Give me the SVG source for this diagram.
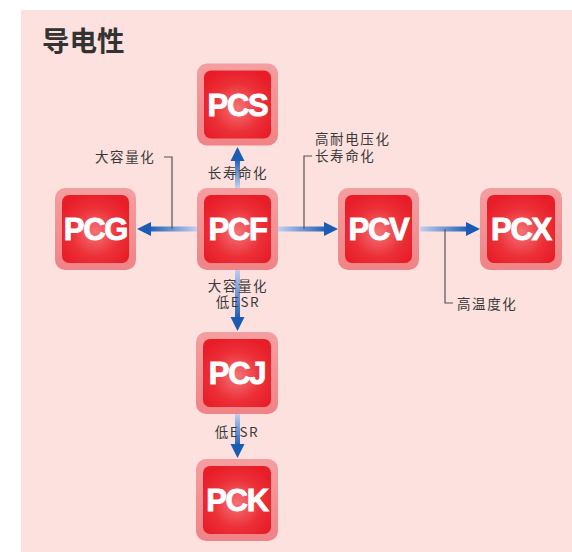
<svg xmlns="http://www.w3.org/2000/svg" width="572" height="552" viewBox="0 0 572 552">
<defs>
<style>
.outer{fill:url(#og)}
.inner{fill:url(#ig)}
.nt{font-family:"Liberation Sans",Arial,sans-serif;font-weight:bold;font-size:31px;fill:#fff;stroke:#fff;stroke-width:0.9;text-anchor:middle;letter-spacing:-1.3px}
.lb{font-family:"Noto Sans CJK SC","Noto Sans",sans-serif;font-size:13.5px;fill:#3a3a3a;letter-spacing:1.6px}
.ct{text-anchor:middle}
.call{fill:none;stroke:#555;stroke-width:1.2}
.head{fill:#1a5cb3}
</style>
<linearGradient id="og" x1="0" y1="0" x2="0" y2="1">
<stop offset="0" stop-color="#f59ea0"/>
<stop offset="1" stop-color="#f08385"/>
</linearGradient>
<radialGradient id="ig" cx="0.5" cy="0.55" r="0.6">
<stop offset="0" stop-color="#f47376"/>
<stop offset="0.6" stop-color="#ec3038"/>
<stop offset="1" stop-color="#e81d28"/>
</radialGradient>
<linearGradient id="aL" gradientUnits="userSpaceOnUse" x1="197" y1="0" x2="148" y2="0">
<stop offset="0" stop-color="#c3cff0"/><stop offset="1" stop-color="#1a5cb3"/>
</linearGradient>
<linearGradient id="aR1" gradientUnits="userSpaceOnUse" x1="278" y1="0" x2="328" y2="0">
<stop offset="0" stop-color="#c3cff0"/><stop offset="1" stop-color="#1a5cb3"/>
</linearGradient>
<linearGradient id="aR2" gradientUnits="userSpaceOnUse" x1="420" y1="0" x2="470" y2="0">
<stop offset="0" stop-color="#c3cff0"/><stop offset="1" stop-color="#1a5cb3"/>
</linearGradient>
<linearGradient id="aU" gradientUnits="userSpaceOnUse" x1="0" y1="188" x2="0" y2="158">
<stop offset="0" stop-color="#c3cff0"/><stop offset="1" stop-color="#1a5cb3"/>
</linearGradient>
<linearGradient id="aD1" gradientUnits="userSpaceOnUse" x1="0" y1="269" x2="0" y2="320">
<stop offset="0" stop-color="#c3cff0"/><stop offset="1" stop-color="#1a5cb3"/>
</linearGradient>
<linearGradient id="aD2" gradientUnits="userSpaceOnUse" x1="0" y1="414" x2="0" y2="447">
<stop offset="0" stop-color="#c3cff0"/><stop offset="1" stop-color="#1a5cb3"/>
</linearGradient>
</defs>
<rect x="21" y="10" width="551" height="542" fill="#fde1df"/>
<text x="42" y="51" font-family="Noto Sans CJK SC,sans-serif" font-weight="bold" font-size="27.5" fill="#333">导电性</text>

<g id="connectors">
<rect x="148" y="226.5" width="49" height="5" fill="url(#aL)"/>
<polygon class="head" points="137,229 151,222 151,236"/>
<rect x="278" y="226.5" width="49" height="5" fill="url(#aR1)"/>
<polygon class="head" points="338,229 324,222 324,236"/>
<rect x="420" y="226.5" width="49" height="5" fill="url(#aR2)"/>
<polygon class="head" points="480,229 466,222 466,236"/>
<rect x="235" y="158" width="5" height="30" fill="url(#aU)"/>
<polygon class="head" points="237.5,147 230.5,161 244.5,161"/>
<rect x="235" y="269" width="5" height="51" fill="url(#aD1)"/>
<polygon class="head" points="237.5,331 230.5,317 244.5,317"/>
<rect x="235" y="414" width="5" height="33" fill="url(#aD2)"/>
<polygon class="head" points="237.5,458 230.5,444 244.5,444"/>
<path class="call" d="M164,157 H172 V229"/>
<path class="call" d="M312,156 H304 V229"/>
<path class="call" d="M445,229 V303 H453"/>
<text class="lb ct" x="238" y="178">长寿命化</text>
<text class="lb" x="95" y="162">大容量化</text>
<text class="lb ct" x="238" y="291">大容量化</text>
<text class="lb ct" x="238" y="306.5">低ESR</text>
<text class="lb" x="315" y="144">高耐电压化</text>
<text class="lb" x="315" y="161">长寿命化</text>
<text class="lb" x="457" y="309">高温度化</text>
<text class="lb ct" x="237" y="437">低ESR</text>
</g>

<g id="PCS">
<rect class="outer" x="197" y="63.5" width="81" height="82" rx="10"/>
<rect class="inner" x="204" y="70.5" width="67" height="68" rx="7"/>
<text class="nt" x="237.5" y="115.5">PCS</text>
</g>
<g id="PCF">
<rect class="outer" x="197" y="188" width="81" height="82" rx="10"/>
<rect class="inner" x="204" y="195" width="67" height="68" rx="7"/>
<text class="nt" x="237.5" y="240">PCF</text>
</g>
<g id="PCG">
<rect class="outer" x="55" y="188" width="81" height="82" rx="10"/>
<rect class="inner" x="62" y="195" width="67" height="68" rx="7"/>
<text class="nt" x="95.5" y="240">PCG</text>
</g>
<g id="PCV">
<rect class="outer" x="338" y="188" width="81" height="82" rx="10"/>
<rect class="inner" x="345" y="195" width="67" height="68" rx="7"/>
<text class="nt" x="378.5" y="240">PCV</text>
</g>
<g id="PCX">
<rect class="outer" x="480" y="188" width="82" height="82" rx="10"/>
<rect class="inner" x="487" y="195" width="68" height="68" rx="7"/>
<text class="nt" x="521" y="240">PCX</text>
</g>
<g id="PCJ">
<rect class="outer" x="196" y="332" width="82" height="82" rx="10"/>
<rect class="inner" x="203" y="339" width="68" height="68" rx="7"/>
<text class="nt" x="237" y="384">PCJ</text>
</g>
<g id="PCK">
<rect class="outer" x="196" y="459" width="82" height="82" rx="10"/>
<rect class="inner" x="203" y="466" width="68" height="68" rx="7"/>
<text class="nt" x="237" y="511">PCK</text>
</g>
</svg>
